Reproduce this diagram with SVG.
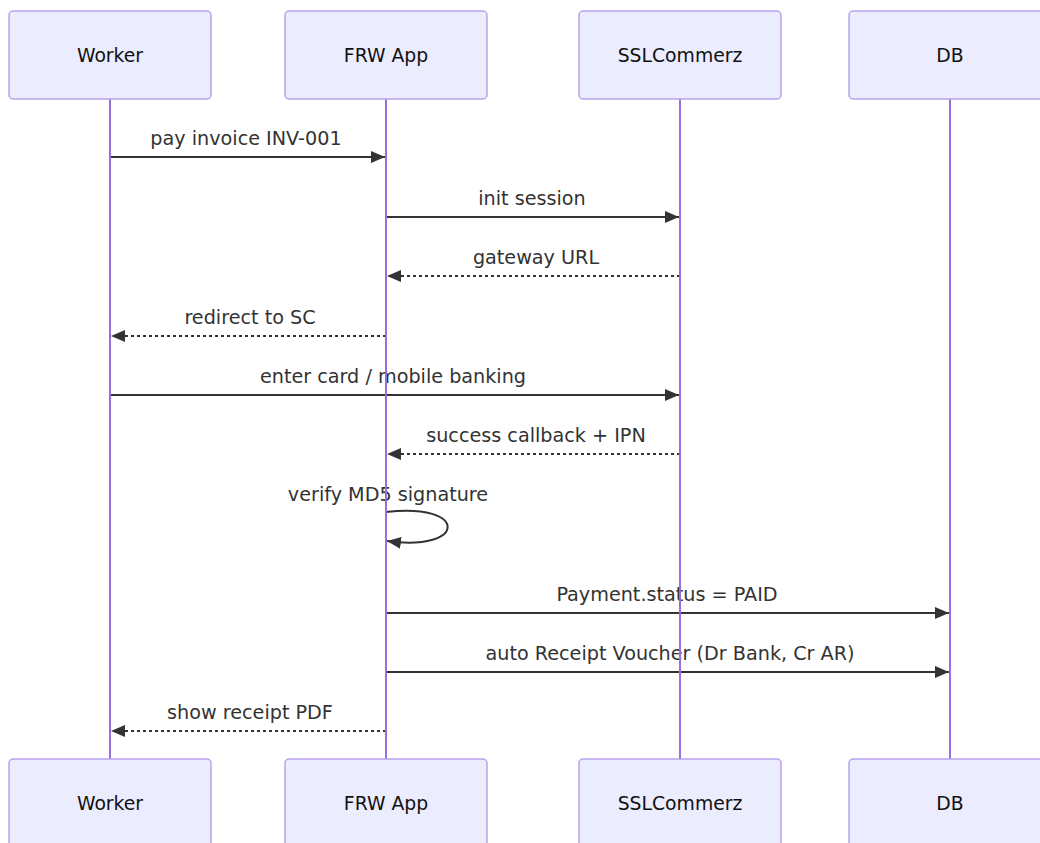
<svg xmlns="http://www.w3.org/2000/svg" width="1040" height="843" viewBox="0 0 1040 843">
<style>
.box{fill:#ECECFF;stroke:#B9A3EC;stroke-width:1.5}
.life{stroke:#9370DB;stroke-width:2}
.lbl{font-family:"DejaVu Sans","Liberation Sans",sans-serif;font-size:18.8px;fill:#111;text-anchor:middle;dominant-baseline:central}
.msg{font-family:"DejaVu Sans","Liberation Sans",sans-serif;font-size:19.2px;fill:#333;text-anchor:middle}
.m{stroke:#333;stroke-width:2;fill:none}
.d{stroke-dasharray:3,3}
</style>
<defs>
<marker id="ah" viewBox="0 0 14 12" refX="14" refY="6" markerWidth="14" markerHeight="12" markerUnits="userSpaceOnUse" orient="auto">
<path d="M0,0 L14,6 L0,12 z" fill="#333"/>
</marker>
</defs>
<rect width="1040" height="843" fill="#fff"/>
<g id="connectors">
<line class="m" x1="110" y1="157" x2="385" y2="157" marker-end="url(#ah)"/>
<text class="msg" x="246" y="144.5">pay invoice INV-001</text>
<line class="m" x1="386" y1="217" x2="679" y2="217" marker-end="url(#ah)"/>
<text class="msg" x="532" y="204.5">init session</text>
<line class="m d" x1="680" y1="276" x2="387" y2="276" marker-end="url(#ah)"/>
<text class="msg" x="536" y="263.5">gateway URL</text>
<line class="m d" x1="386" y1="336" x2="111" y2="336" marker-end="url(#ah)"/>
<text class="msg" x="250" y="323.5">redirect to SC</text>
<line class="m" x1="110" y1="395" x2="679" y2="395" marker-end="url(#ah)"/>
<text class="msg" x="393" y="382.5">enter card / mobile banking</text>
<line class="m d" x1="680" y1="454" x2="387" y2="454" marker-end="url(#ah)"/>
<text class="msg" x="536" y="441.5">success callback + IPN</text>
<path class="m" d="M386,512 C468,502 468,552 387,541" marker-end="url(#ah)"/>
<text class="msg" x="388" y="500.5">verify MD5 signature</text>
<line class="m" x1="386" y1="613" x2="949" y2="613" marker-end="url(#ah)"/>
<text class="msg" x="667" y="600.5">Payment.status = PAID</text>
<line class="m" x1="386" y1="672" x2="949" y2="672" marker-end="url(#ah)"/>
<text class="msg" x="670" y="659.5">auto Receipt Voucher (Dr Bank, Cr AR)</text>
<line class="m d" x1="386" y1="731" x2="111" y2="731" marker-end="url(#ah)"/>
<text class="msg" x="250" y="718.5">show receipt PDF</text>
</g>
<g id="lifelines">
<line class="life" x1="110" y1="99" x2="110" y2="759"/>
<line class="life" x1="386" y1="99" x2="386" y2="759"/>
<line class="life" x1="680" y1="99" x2="680" y2="759"/>
<line class="life" x1="950" y1="99" x2="950" y2="759"/>
</g>
<g id="worker-top"><rect class="box" x="9" y="11" width="202" height="88" rx="4"/><text class="lbl" x="110" y="55">Worker</text></g>
<g id="frw-top"><rect class="box" x="285" y="11" width="202" height="88" rx="4"/><text class="lbl" x="386" y="55">FRW App</text></g>
<g id="ssl-top"><rect class="box" x="579" y="11" width="202" height="88" rx="4"/><text class="lbl" x="680" y="55">SSLCommerz</text></g>
<g id="db-top"><rect class="box" x="849" y="11" width="202" height="88" rx="4"/><text class="lbl" x="950" y="55">DB</text></g>
<g id="worker-bot"><rect class="box" x="9" y="759" width="202" height="88" rx="4"/><text class="lbl" x="110" y="803">Worker</text></g>
<g id="frw-bot"><rect class="box" x="285" y="759" width="202" height="88" rx="4"/><text class="lbl" x="386" y="803">FRW App</text></g>
<g id="ssl-bot"><rect class="box" x="579" y="759" width="202" height="88" rx="4"/><text class="lbl" x="680" y="803">SSLCommerz</text></g>
<g id="db-bot"><rect class="box" x="849" y="759" width="202" height="88" rx="4"/><text class="lbl" x="950" y="803">DB</text></g>
</svg>
